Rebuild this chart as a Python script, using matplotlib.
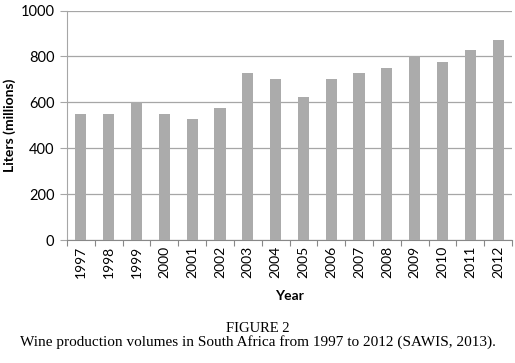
import matplotlib.pyplot as plt
import numpy as np

years = ['1997', '1998', '1999', '2000', '2001', '2002', '2003', '2004',
         '2005', '2006', '2007', '2008', '2009', '2010', '2011', '2012']
volumes = [551, 551, 601, 551, 526, 576, 726, 700,
           623, 700, 726, 748, 800, 774, 830, 870]

W, H = 515, 363
fig = plt.figure(figsize=(W / 100, H / 100), dpi=100)
ax = fig.add_axes([67 / W, 1 - 240 / H, (512 - 67) / W, (240 - 10.5) / H])

x = np.arange(len(years))
ax.bar(x, volumes, width=0.4, color='#ababab', zorder=3)

ax.set_xlim(-0.5, len(years) - 0.5)
ax.set_ylim(0, 1000)
ax.set_yticks(range(0, 1001, 200))
ax.grid(axis='y', color='#a6a6a6', linewidth=0.9, zorder=0)

# boundary ticks between categories, labels centred under bars
ax.set_xticks(np.arange(-0.5, len(years), 1), minor=False)
ax.set_xticklabels([])
ax.set_xticks(x, minor=True)
ax.set_xticklabels(years, minor=True, rotation=90, fontsize=10, family='Lato')
ax.tick_params(axis='x', which='minor', length=0, pad=4)
ax.tick_params(axis='x', which='major', length=4, color='#888888')
ax.tick_params(axis='y', length=5, color='#a6a6a6', labelsize=10.5, pad=4)
for lab in ax.get_yticklabels():
    lab.set_family('Lato')

for s in ['top', 'right']:
    ax.spines[s].set_visible(False)
ax.spines['left'].set_color('#a6a6a6')
ax.spines['bottom'].set_color('#888888')

fig.text(10 / W, 1 - 125 / H, 'Liters (millions)', rotation=90, ha='center', va='center',
         fontsize=10, fontweight='bold', family='Lato')
fig.text((67 + 512) / 2 / W, 1 - 296 / H, 'Year', ha='center', va='center',
         fontsize=10, fontweight='bold', family='Lato')

fig.text(0.5, 1 - 328 / H, 'FIGURE 2', ha='center', va='center',
         fontsize=10.5, family='Liberation Serif')
fig.text(0.5, 1 - 342 / H, 'Wine production volumes in South Africa from 1997 to 2012 (SAWIS, 2013).',
         ha='center', va='center', fontsize=11, family='Liberation Serif')

fig.savefig('out.png', dpi=100)
